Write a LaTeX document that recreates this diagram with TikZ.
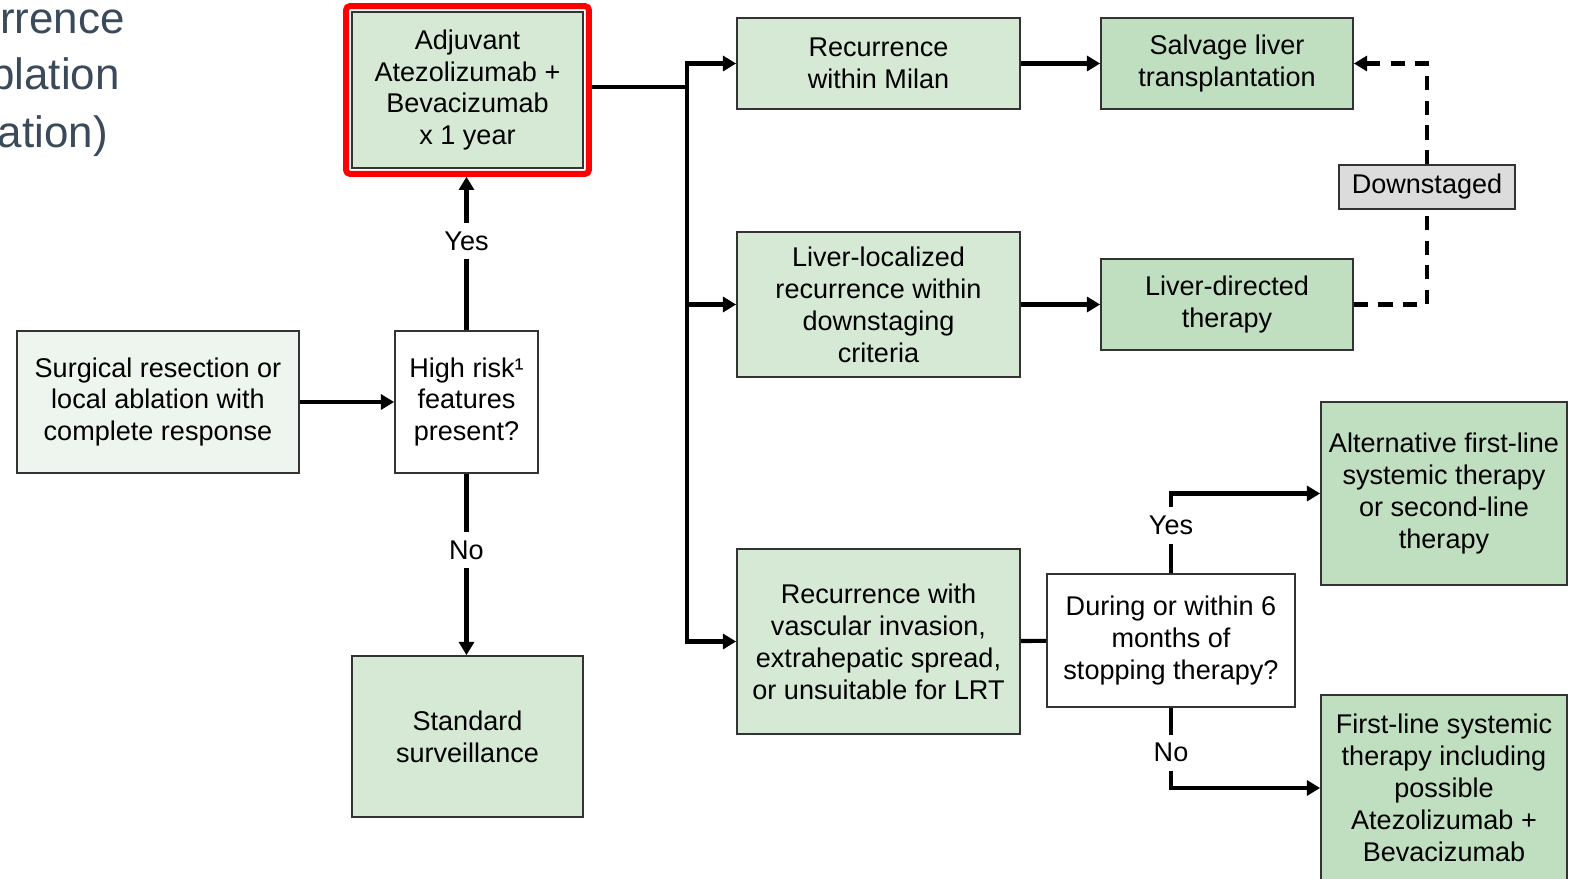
\documentclass[tikz,border=0pt]{standalone}
\usepackage{fontspec}
\setmainfont{Liberation Sans}
\usetikzlibrary{arrows.meta,fit}
\definecolor{pale}{HTML}{D6E9D5}
\definecolor{deep}{HTML}{C0DFC0}
\definecolor{faint}{HTML}{EEF4EE}
\definecolor{shade}{HTML}{DCDCDC}
\definecolor{edge}{HTML}{333333}
\definecolor{slate}{HTML}{3B4A5A}
\definecolor{alarm}{HTML}{FF0000}
\begin{document}
\begin{tikzpicture}[x=0.02cm,y=-0.02cm,
    every node/.style={font=\fontsize{15.4}{18.2}\selectfont, align=center, inner sep=0pt},
    box/.style 2 args={draw=edge, line width=1pt, minimum width=#1*0.02cm, minimum height=#2*0.02cm},
    conn/.style={line width=2.3pt},
    arr/.style={conn, -{Triangle[length=7.5pt,width=8.5pt]}},
    dashline/.style={conn, dash pattern=on 8pt off 6pt},
    lbl/.style={fill=white, inner xsep=2pt, inner ysep=5pt},
    title/.style={font=\fontsize{25}{32.3}\selectfont, text=slate, anchor=base east}]
    \useasboundingbox (0,0) rectangle (1570,879);
    \fill[white] (0,0) rectangle (1570,879);
    % cut-off slide title
    \node[title] (tl1) at (125,33) {rrence};
    \node[title] (tl2) at (120,90) {blation};
    \node[title] (tl3) at (108,147) {ation)};
    % left column
    \node[box={282}{142}, fill=faint] (surg) at (158,402) {Surgical resection or\\local ablation with\\complete response};
    \node[box={143}{142}, fill=white] (risk) at (466.5,402) {High risk¹\\features\\present?};
    \node[box={231}{156}, fill=pale] (adj) at (467.5,90) {Adjuvant\\Atezolizumab +\\Bevacizumab\\x 1 year};
    \node[draw=alarm, line width=3.4pt, rounded corners=2pt, fit=(adj), inner sep=2.8pt] (adjframe) {};
    \node[box={231}{161}, fill=pale] (surv) at (467.5,736.5) {Standard\\surveillance};
    % recurrence column
    \node[box={283}{91}, fill=pale] (milan) at (878.5,63.5) {Recurrence\\within Milan};
    \node[box={283}{145}, fill=pale] (loc) at (878.5,304.5) {Liver-localized\\recurrence within\\downstaging\\criteria};
    \node[box={283}{185}, fill=pale] (vasc) at (878.5,641.5) {Recurrence with\\vascular invasion,\\extrahepatic spread,\\or unsuitable for LRT};
    % treatment column
    \node[box={252}{91}, fill=deep] (salvage) at (1227,63.5) {Salvage liver\\transplantation};
    \node[box={252}{91}, fill=deep] (dir) at (1227,304.5) {Liver-directed\\therapy};
    \node[box={176}{44}, fill=shade] (down) at (1427,187) {Downstaged};
    \node[box={248}{133}, fill=white] (within) at (1171,640.5) {During or within 6\\months of\\stopping therapy?};
    \node[box={246}{183}, fill=deep] (alt) at (1444,493.5) {Alternative first-line\\systemic therapy\\or second-line\\therapy};
    \node[box={246}{186}, fill=deep] (first) at (1444,788) {First-line systemic\\therapy including\\possible\\Atezolizumab +\\Bevacizumab};
    % connectors
    \draw[arr] (surg) -- (risk);
    \draw[arr] (risk.north) -- node[lbl, pos=0.58] {Yes} (risk.north |- adjframe.south);
    \draw[arr] (risk.south) -- node[lbl, pos=0.42] {No} (risk.south |- surv.north);
    \coordinate (bus) at (687,87);
    \draw[conn] (adjframe.east |- bus) -- (bus);
    \draw[arr] (bus |- vasc) -- (bus |- milan) -- (milan);
    \draw[arr] (bus |- milan) -- (bus |- vasc) -- (vasc);
    \draw[arr] (bus |- loc) -- (loc);
    \draw[arr] (milan) -- (salvage);
    \draw[arr] (loc) -- (dir);
    \draw[dashline] (dir.east) -| (down.south);
    \draw[arr, dash pattern=on 8pt off 6pt] (down.north) |- (salvage.east);
    \draw[conn] (vasc) -- (within);
    \draw[arr] (within.north) |- node[lbl, pos=0.3] {Yes} (alt.west);
    \draw[arr] (within.south) |- node[lbl, pos=0.28] {No} (first.west);
\end{tikzpicture}
\end{document}
